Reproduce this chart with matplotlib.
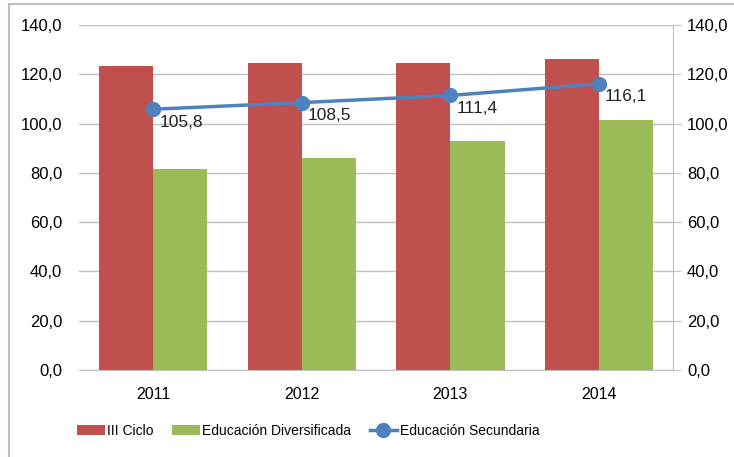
import matplotlib.pyplot as plt
import numpy as np

years = ['2011', '2012', '2013', '2014']
iii_ciclo = [123.5, 124.5, 124.5, 126.0]
diversificada = [81.5, 86.0, 93.0, 101.5]
secundaria = [105.8, 108.5, 111.4, 116.1]
yticks = [0, 20, 40, 60, 80, 100, 120, 140]

red = '#C0504D'
green = '#9BBB59'
blue = '#4F81BD'
plt.rcParams['font.family'] = ['Liberation Sans', 'DejaVu Sans']

fig = plt.figure(figsize=(7.34, 4.57), dpi=100)
ax = fig.add_axes([0.1076, 0.1904, 0.8094, 0.755])

x = np.arange(len(years))
w = 0.365
ax.bar(x - w / 2, iii_ciclo, w, color=red, label='III Ciclo', zorder=2)
ax.bar(x + w / 2, diversificada, w, color=green, label='Educación Diversificada', zorder=2)
ax.plot(x, secundaria, color=blue, lw=2.5, marker='o', ms=10, label='Educación Secundaria', zorder=3)

for xi, v in zip(x, secundaria):
    ax.annotate(f'{v:.1f}'.replace('.', ','), (xi, v), xytext=(6, -13),
                textcoords='offset pixels', ha='left', va='center', fontsize=12.5, color='#222222')

ax.set_xlim(-0.5, 3.5)
ax.set_ylim(0, 140)
ax.set_yticks(yticks)
ax.set_yticklabels([f'{t},0' for t in yticks], fontsize=12)
ax.set_xticks(x)
ax.set_xticklabels(years, fontsize=11.5)
ax.grid(axis='y', color='#BFBFBF', lw=1, zorder=0)
ax.tick_params(axis='y', length=0, pad=12)
ax.tick_params(axis='x', length=0, pad=12)
for s in ['left', 'top', 'right']:
    ax.spines[s].set_visible(False)
ax.spines['bottom'].set_color('#BFBFBF')

ax2 = ax.twinx()
ax2.set_ylim(0, 140)
ax2.set_yticks(yticks)
ax2.set_yticklabels([f'{t},0' for t in yticks], fontsize=12)
ax2.tick_params(axis='y', length=6, color='#BFBFBF', pad=4)
for s in ['left', 'top', 'bottom']:
    ax2.spines[s].set_visible(False)
ax2.spines['right'].set_color('#BFBFBF')

h, l = ax.get_legend_handles_labels()
order = [1, 2, 0]
fig.legend([h[i] for i in order], [l[i] for i in order], loc='center',
           bbox_to_anchor=(0.42, 0.057), ncol=3, frameon=False, fontsize=10,
           handlelength=2.0, handleheight=0.8, handletextpad=0.2, columnspacing=1.3)

fig.add_artist(plt.Line2D([9 / 734, 9 / 734], [0, 1 - 4 / 457], color='#BFBFBF', lw=1.5))
fig.add_artist(plt.Line2D([9 / 734, 1], [1 - 4 / 457, 1 - 4 / 457], color='#BFBFBF', lw=1.5))

fig.savefig('out.png', dpi=100)
